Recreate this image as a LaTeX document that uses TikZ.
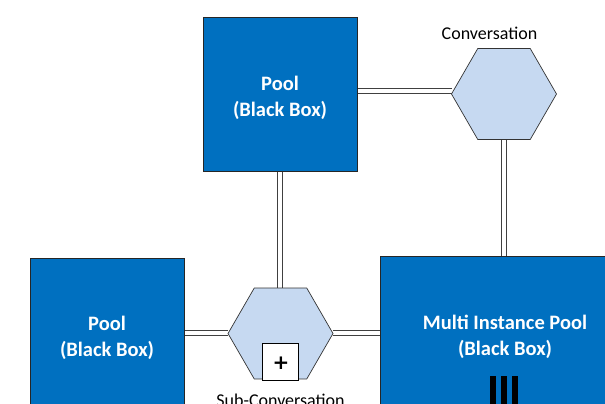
\documentclass[tikz,border=0pt]{standalone}
\usepackage{fontspec}
\setmainfont{Carlito}
\newfontfamily\symfont{DejaVu Sans}
\usetikzlibrary{shapes.geometric}
\definecolor{poolblue}{HTML}{0070C0}
\definecolor{hexfill}{HTML}{C6D9F1}
\begin{document}
\begin{tikzpicture}[x=1pt,y=-1pt,
  pool/.style={draw=black!85,line width=0.8pt,fill=poolblue,inner sep=0pt,outer sep=0pt},
  pooltext/.style={text=white,font=\fontsize{20.5}{25.5}\selectfont\bfseries,align=center,inner sep=0pt},
  hexa/.style={regular polygon,regular polygon sides=6,minimum size=105pt,inner sep=0pt,outer sep=0pt,
    draw=black!80,line width=0.7pt,fill=hexfill},
  conn/.style={draw=black!75,line width=0.9pt,double=white,double distance=4pt},
  lbl/.style={font=\fontsize{18}{20}\selectfont,inner sep=0pt,anchor=base},
  bar/.style={fill=black,draw=none,minimum width=6pt,minimum height=40pt,inner sep=0pt,anchor=north}]
\useasboundingbox (0,0) rectangle (605,404);
\begin{scope}
\clip (0,0) rectangle (605,404);
% connector anchors (shapes, named)
\path (280,94) node[minimum width=154pt,minimum height=154pt,inner sep=0pt,outer sep=0pt] (tp) {};
\path (504,94) node[regular polygon,regular polygon sides=6,minimum size=105pt,inner sep=0pt,outer sep=0pt] (conv) {};
\path (280.5,333.5) node[regular polygon,regular polygon sides=6,minimum size=105pt,inner sep=0pt,outer sep=0pt] (sub) {};
\path (107,337) node[minimum width=154pt,minimum height=158pt,inner sep=0pt,outer sep=0pt] (lp) {};
\path (505,335) node[minimum width=250pt,minimum height=158pt,inner sep=0pt,outer sep=0pt] (mp) {};
% connectors
\coordinate (y1) at (0,91);
\coordinate (y2) at (0,333);
\path[conn] (tp.east |- y1) -- (conv.west |- y1);
\path[conn] (conv.south) -- (conv.south |- mp.north);
\path[conn] (tp.south) -- (tp.south |- sub.north);
\path[conn] (lp.east |- y2) -- (sub.west |- y2);
\path[conn] (sub.east |- y2) -- (mp.west |- y2);
% shapes drawn on top of the connectors
\node[pool,minimum width=154pt,minimum height=154pt] (tpbox) at (tp) {};
\node[hexa] (convbox) at (conv) {};
\node[hexa] (subbox) at (sub) {};
\node[pool,minimum width=154pt,minimum height=158pt] (lpbox) at (lp) {};
\node[pool,minimum width=250pt,minimum height=158pt] (mpbox) at (mp) {};
% pool texts
\node[pooltext] (tptxt) at ([yshift=-4pt]tp.center) {Pool\\(Black Box)};
\node[pooltext] (lptxt) at ([yshift=-1pt]lp.center) {Pool\\(Black Box)};
\node[pooltext] (mptxt) at ([yshift=-2pt]mp.center) {Multi Instance Pool\\(Black Box)};
% labels
\node[lbl] (convlbl) at (489.5,39.5) {Conversation};
\node[lbl] (sublbl) at (280.5,406) {Sub-Conversation};
% sub-conversation marker
\node[draw=black,line width=0.8pt,fill=white,minimum width=36pt,minimum height=37pt,inner sep=0pt] (plus) at (280,361.5) {};
\node[inner sep=0pt,font=\symfont\bfseries\fontsize{20}{20}\selectfont] (plustxt) at (281,363) {+};
% multi-instance bars
\node[bar] (b1) at (493,376) {};
\node[bar] (b2) at (503.7,376) {};
\node[bar] (b3) at (515,376) {};
\end{scope}
\end{tikzpicture}
\end{document}
